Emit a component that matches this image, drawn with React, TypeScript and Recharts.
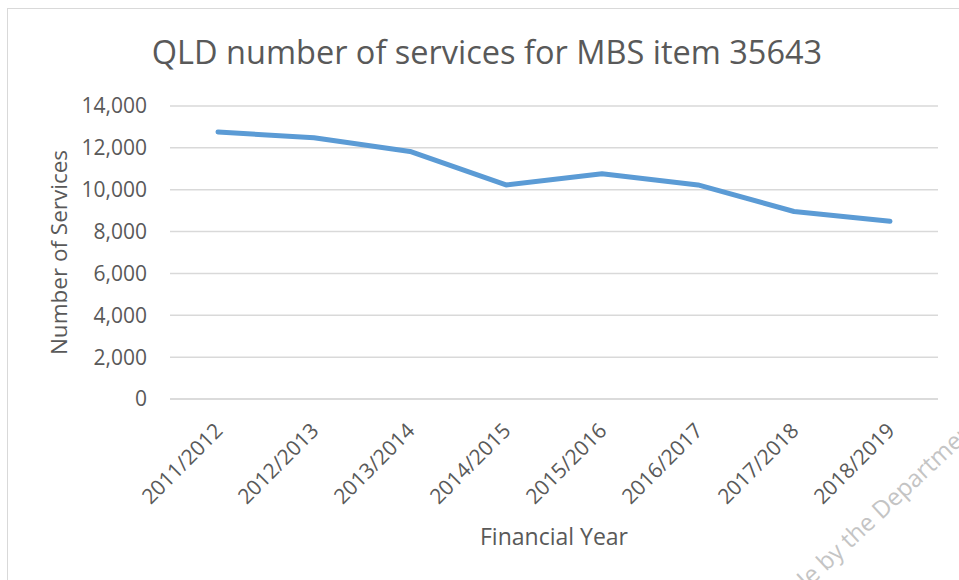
import React from "react";
import { LineChart, Line, XAxis, YAxis, CartesianGrid } from "recharts";

// financial years on the x axis
const years = ["2011/2012", "2012/2013", "2013/2014", "2014/2015", "2015/2016", "2016/2017", "2017/2018", "2018/2019"];
// number of services per year
const services = [12760, 12480, 11830, 10230, 10760, 10230, 8960, 8490];
const yTicks = [0, 2000, 4000, 6000, 8000, 10000, 12000, 14000];

const FONT = "'Open Sans', 'DejaVu Sans', sans-serif";
const TEXT = "#595959";

const data = years.map((y, i) => ({ year: y, services: services[i] }));

const XTick = ({ x, y, payload }: any) => (
    <g transform={`translate(${x + 6},${y})`}>
        <text textAnchor="end" transform="rotate(-45)" fill={TEXT} fontSize={21} fontFamily={FONT}>
            {payload.value}
        </text>
    </g>
);

const App = () => {
    return (
        <div style={{ position: "absolute", left: 0, top: 0, width: 959, height: 580, overflow: "hidden", background: "#fff" }}>
            {/* chart frame, only its top and left edges fall inside the picture */}
            <div style={{ position: "absolute", left: 7, top: 8, width: 1100, height: 700, border: "1.5px solid #d9d9d9" }} />
            <div style={{ position: "absolute", left: 0, top: 29, width: 974, textAlign: "center", fontFamily: FONT, fontSize: 32.5, color: TEXT, lineHeight: "46px" }}>
                QLD number of services for MBS item 35643
            </div>
            <div style={{ position: "absolute", left: 0, top: 0 }}>
                <LineChart width={959} height={580} data={data} margin={{ top: 106, right: 21, left: 0, bottom: 0 }}>
                    <CartesianGrid vertical={false} stroke="#d9d9d9" strokeWidth={1.5} />
                    <XAxis
                        dataKey="year"
                        height={181}
                        padding={{ left: 48, right: 48 }}
                        tickLine={false}
                        axisLine={{ stroke: "#d9d9d9", strokeWidth: 1.5 }}
                        tickSize={0}
                        tickMargin={33}
                        interval={0}
                        tick={<XTick />}
                        label={{ value: "Financial Year", position: "insideBottom", offset: 35, fill: TEXT, fontSize: 23, fontFamily: FONT }}
                    />
                    <YAxis
                        width={170}
                        domain={[0, 14000]}
                        ticks={yTicks}
                        axisLine={false}
                        tickLine={false}
                        tickSize={0}
                        tickMargin={23}
                        tickFormatter={(v: number) => v.toLocaleString("en-US")}
                        tick={{ fill: TEXT, fontSize: 21, fontFamily: FONT }}
                        label={{ value: "Number of Services", angle: -90, position: "insideLeft", offset: 59, fill: TEXT, fontSize: 22.5, fontFamily: FONT, style: { textAnchor: "middle" } }}
                    />
                    <Line
                        type="linear"
                        dataKey="services"
                        stroke="#5b9bd5"
                        strokeWidth={5}
                        strokeLinecap="round"
                        strokeLinejoin="round"
                        dot={false}
                        activeDot={false}
                        isAnimationActive={false}
                    />
                </LineChart>
            </div>
            {/* faint watermark in the lower right corner */}
            <svg width={959} height={580} style={{ position: "absolute", left: 0, top: 0, pointerEvents: "none" }}>
                <g transform="translate(826,572) rotate(-43)" fill="#c4c4c4" fontSize={24} fontFamily={FONT}>
                    <text x={-6} textAnchor="end">made</text>
                    <text x={0} textAnchor="start">by the Department of Health</text>
                </g>
            </svg>
        </div>
    );
};

export default App;
